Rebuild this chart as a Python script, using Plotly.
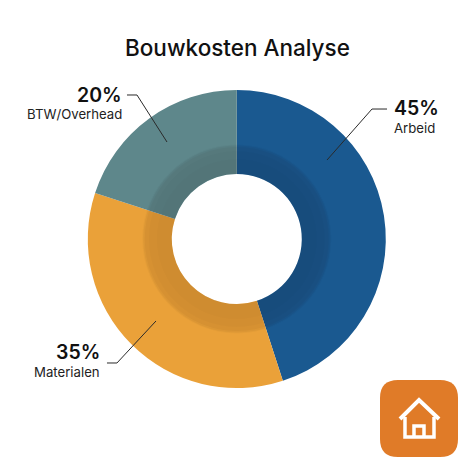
import plotly.graph_objects as go

categories = ["Arbeid", "Materialen", "BTW/Overhead"]
values = [45, 35, 20]
percent_labels = ["45%", "35%", "20%"]
outer_colors = ["#1A5990", "#EAA139", "#5E878B"]
title_text = "Bouwkosten Analyse"
shade_radii = [94.5, 93.5, 92, 88, 80]
shade_alpha = [0.025, 0.04, 0.03, 0.015, 0.01]

W = 474
cx, cy = 236.8, 239
R_out = 149
R_hole = 65
FONT = "Inter, Lato, sans-serif"


def dom(r):
    return dict(x=[(cx - r) / W, (cx + r) / W], y=[1 - (cy + r) / W, 1 - (cy - r) / W])


fig = go.Figure()
fig.add_trace(go.Pie(labels=categories, values=values, sort=False, direction="clockwise", rotation=0,
                     hole=R_hole / R_out, domain=dom(R_out), textinfo="none", showlegend=False,
                     hoverinfo="label+percent", marker=dict(colors=outer_colors, line=dict(width=0))))
for r, a in zip(shade_radii, shade_alpha):
    fig.add_trace(go.Pie(labels=["schaduw"], values=[1], hole=R_hole / r, domain=dom(r), textinfo="none",
                         showlegend=False, hoverinfo="skip",
                         marker=dict(colors=[f"rgba(20,10,0,{a})"], line=dict(width=0))))


def px(x):
    return x / W


def py(y):
    return 1 - y / W


def pth(points):
    return "M" + " L".join(f"{px(x):.4f},{py(y):.4f}" for x, y in points)


shapes = []
for pts in ([(327, 160), (372, 109), (387, 109)],
            [(167, 142), (137, 95), (127, 95)],
            [(156, 321), (117, 363), (107, 363)]):
    shapes.append(dict(type="path", xref="paper", yref="paper", path=pth(pts),
                       line=dict(color="#2A2A2A", width=1)))

x0, y0, x1, y1, r = 380, 380, 458, 457, 18
badge = (f"M{px(x0 + r)},{py(y0)} L{px(x1 - r)},{py(y0)} Q{px(x1)},{py(y0)} {px(x1)},{py(y0 + r)} "
         f"L{px(x1)},{py(y1 - r)} Q{px(x1)},{py(y1)} {px(x1 - r)},{py(y1)} "
         f"L{px(x0 + r)},{py(y1)} Q{px(x0)},{py(y1)} {px(x0)},{py(y1 - r)} "
         f"L{px(x0)},{py(y0 + r)} Q{px(x0)},{py(y0)} {px(x0 + r)},{py(y0)} Z")
shapes.append(dict(type="path", xref="paper", yref="paper", path=badge,
                   fillcolor="#E07B28", line=dict(width=0)))
for pts, w in (([(400, 419), (419, 400), (439, 419)], 4),
               ([(405, 417), (405, 437), (434, 437), (434, 417)], 3.5),
               ([(414, 437), (414, 426), (424, 426), (424, 437)], 3.5)):
    shapes.append(dict(type="path", xref="paper", yref="paper", path=pth(pts),
                       line=dict(color="white", width=w)))

big = dict(size=19.5, color="#111111", family=FONT, weight=600)
small = dict(size=13.2, color="#222222", family=FONT)
annotations = [
    dict(x=px(237.5), y=py(47), text=title_text, xanchor="center", yanchor="middle",
         font=dict(size=22.5, color="#111111", family=FONT, weight=500)),
    dict(x=px(394), y=py(108), text=percent_labels[0], xanchor="left", yanchor="middle", font=big),
    dict(x=px(394), y=py(128), text=categories[0], xanchor="left", yanchor="middle", font=small),
    dict(x=px(100), y=py(352), text=percent_labels[1], xanchor="right", yanchor="middle", font=big),
    dict(x=px(100), y=py(372), text=categories[1], xanchor="right", yanchor="middle", font=small),
    dict(x=px(122), y=py(95), text=percent_labels[2], xanchor="right", yanchor="middle", font=big),
    dict(x=px(122), y=py(114), text=categories[2], xanchor="right", yanchor="middle", font=small),
]
for a in annotations:
    a.update(xref="paper", yref="paper", showarrow=False, borderpad=0, borderwidth=0)

fig.update_layout(width=W, height=W, margin=dict(l=0, r=0, t=0, b=0), paper_bgcolor="white",
                  plot_bgcolor="white", shapes=shapes, annotations=annotations, showlegend=False)
fig.write_html("out.html", config={"displayModeBar": False},
               post_script="document.body.style.margin='0';")
